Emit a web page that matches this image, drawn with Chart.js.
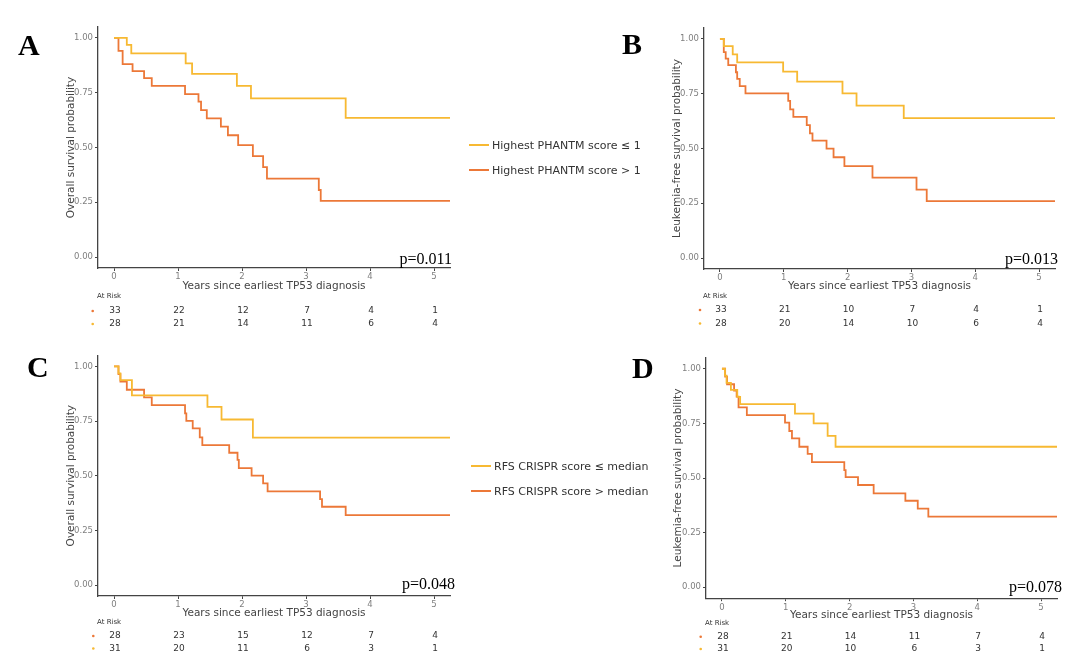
<!DOCTYPE html>
<html>
<head>
<meta charset="utf-8">
<script src="https://cdn.jsdelivr.net/npm/chart.js@4/dist/chart.umd.min.js"></script>
<style>
  body { margin: 0; background: #fff; }
  #page { position: relative; width: 1080px; height: 660px; overflow: hidden; font-family: "DejaVu Sans", sans-serif; }
  canvas { position: absolute; }
  .item { position: absolute; height: 14px; line-height: 14px; font-size: 11px; color: #333; white-space: nowrap; }
  .swatch { display: inline-block; width: 20px; height: 2px; vertical-align: middle; margin-right: 3px; position: relative; top: -1px; }
</style>
</head>
<body>
<div id="page">
  <canvas id="chartA"></canvas>
  <canvas id="chartB"></canvas>
  <canvas id="chartC"></canvas>
  <canvas id="chartD"></canvas>
</div>
<script>
const xTicks = [0, 1, 2, 3, 4, 5];
const yTicks = [0, 0.25, 0.5, 0.75, 1];

const legendAB = ['Highest PHANTM score \u2264 1', 'Highest PHANTM score > 1'];
const legendCD = ['RFS CRISPR score \u2264 median', 'RFS CRISPR score > median'];

// A: overall survival, PHANTM
const timeA_low = [0, 0.2, 0.27, 1.12, 1.22, 1.92, 2.14, 3.62, 5.25];
const survA_low = [1, 0.968, 0.93, 0.884, 0.836, 0.781, 0.724, 0.635, 0.635];
const timeA_high = [0, 0.07, 0.135, 0.29, 0.47, 0.59, 1.11, 1.32, 1.36, 1.45, 1.67, 1.78, 1.94, 2.17, 2.33, 2.39, 3.2, 3.23, 5.25];
const survA_high = [1, 0.941, 0.881, 0.849, 0.817, 0.781, 0.744, 0.709, 0.671, 0.633, 0.595, 0.556, 0.511, 0.461, 0.41, 0.358, 0.306, 0.256, 0.256];
const riskA_high = [33, 22, 12, 7, 4, 1];
const riskA_low = [28, 21, 14, 11, 6, 4];

// B: leukemia-free survival, PHANTM
const timeB_low = [0, 0.06, 0.2, 0.27, 0.99, 1.21, 1.92, 2.14, 2.88, 5.25];
const survB_low = [1, 0.967, 0.93, 0.893, 0.851, 0.805, 0.752, 0.696, 0.639, 0.639];
const timeB_high = [0, 0.06, 0.09, 0.13, 0.25, 0.27, 0.31, 0.4, 1.07, 1.1, 1.15, 1.36, 1.41, 1.45, 1.67, 1.78, 1.95, 2.39, 3.08, 3.24, 5.25];
const survB_high = [1, 0.94, 0.91, 0.881, 0.848, 0.818, 0.785, 0.752, 0.717, 0.679, 0.644, 0.607, 0.569, 0.536, 0.499, 0.46, 0.42, 0.367, 0.312, 0.26, 0.26];
const riskB_high = [33, 21, 10, 7, 4, 1];
const riskB_low = [28, 20, 14, 10, 6, 4];

// C: overall survival, CRISPR
const timeC_low = [0, 0.07, 0.1, 0.28, 1.46, 1.68, 2.17, 5.25];
const survC_low = [1, 0.968, 0.937, 0.867, 0.815, 0.757, 0.674, 0.674];
const timeC_high = [0, 0.07, 0.1, 0.2, 0.47, 0.59, 1.11, 1.13, 1.23, 1.34, 1.38, 1.8, 1.93, 1.95, 2.15, 2.33, 2.4, 3.22, 3.25, 3.62, 5.25];
const survC_high = [1, 0.964, 0.93, 0.893, 0.858, 0.823, 0.785, 0.751, 0.716, 0.675, 0.64, 0.605, 0.572, 0.535, 0.5, 0.465, 0.428, 0.393, 0.358, 0.32, 0.32];
const riskC_high = [28, 23, 15, 12, 7, 4];
const riskC_low = [31, 20, 11, 6, 3, 1];

// D: leukemia-free survival, CRISPR
const timeD_low = [0, 0.047, 0.072, 0.14, 0.24, 0.285, 1.144, 1.437, 1.656, 1.78, 5.25];
const survD_low = [1, 0.968, 0.935, 0.903, 0.871, 0.838, 0.795, 0.75, 0.693, 0.643, 0.643];
const timeD_high = [0, 0.05, 0.08, 0.19, 0.23, 0.26, 0.39, 0.988, 1.055, 1.097, 1.212, 1.343, 1.41, 1.917, 1.938, 2.132, 2.377, 2.874, 3.068, 3.234, 5.25];
const survD_high = [1, 0.964, 0.929, 0.9, 0.872, 0.823, 0.788, 0.753, 0.715, 0.681, 0.643, 0.61, 0.573, 0.536, 0.504, 0.468, 0.43, 0.396, 0.36, 0.323, 0.323];
const riskD_high = [28, 21, 14, 11, 7, 4];
const riskD_low = [31, 20, 10, 6, 3, 1];

const yellow = '#F7B932';
const orange = '#EC7838';

const panels = [
  { id: 'chartA', letter: 'A', p: 'p=0.011', yTitle: 'Overall survival probability',
    box: [0, 0, 460, 335], area: [98, 27, 450, 268], yTitleX: 71, xTitleY: 286.5,
    riskY: [296, 311, 324], dotX: 92.7, pPos: [452, 264.3], letterPos: [18, 55],
    low: [timeA_low, survA_low], high: [timeA_high, survA_high], risk: [riskA_high, riskA_low] },
  { id: 'chartB', letter: 'B', p: 'p=0.013', yTitle: 'Leukemia-free survival probability',
    box: [600, 0, 470, 335], area: [704, 28, 1055, 269], yTitleX: 677.5, xTitleY: 286.5,
    riskY: [296, 310, 323.5], dotX: 700, pPos: [1058, 264.3], letterPos: [622, 54],
    low: [timeB_low, survB_low], high: [timeB_high, survB_high], risk: [riskB_high, riskB_low] },
  { id: 'chartC', letter: 'C', p: 'p=0.048', yTitle: 'Overall survival probability',
    box: [0, 330, 460, 330], area: [98, 355.4, 450, 596], yTitleX: 71, xTitleY: 613.3,
    riskY: [621.7, 636, 648.5], dotX: 93.3, pPos: [455, 589.3], letterPos: [27, 377],
    low: [timeC_low, survC_low], high: [timeC_high, survC_high], risk: [riskC_high, riskC_low] },
  { id: 'chartD', letter: 'D', p: 'p=0.078', yTitle: 'Leukemia-free survival probability',
    box: [600, 330, 470, 330], area: [706, 357.8, 1057, 598.2], yTitleX: 678.5, xTitleY: 615.7,
    riskY: [622.7, 636.7, 649], dotX: 700.7, pPos: [1062, 591.7], letterPos: [632, 378],
    low: [timeD_low, survD_low], high: [timeD_high, survD_high], risk: [riskD_high, riskD_low] }
];

Chart.defaults.font.family = '"DejaVu Sans", sans-serif';

const panelText = {
  id: 'panelText',
  afterDraw(chart, args, opts) {
    const ctx = chart.ctx;
    const xs = chart.scales.x;
    const bx = opts.origin[0], by = opts.origin[1];
    ctx.save();
    ctx.fillStyle = '#333';
    ctx.font = '7px "DejaVu Sans"';
    ctx.textAlign = 'left';
    ctx.textBaseline = 'middle';
    ctx.fillText('At Risk', chart.chartArea.left - 1, opts.riskY[0] - by);

    ctx.font = '9px "DejaVu Sans"';
    ctx.textAlign = 'center';
    const dotColors = [orange, yellow];
    opts.rows.forEach((row, r) => {
      const y = opts.riskY[r + 1] - by;
      ctx.fillStyle = dotColors[r];
      ctx.beginPath();
      ctx.arc(opts.dotX - bx, y, 1.3, 0, Math.PI * 2);
      ctx.fill();
      ctx.fillStyle = '#333';
      row.forEach((n, i) => ctx.fillText(String(n), xs.getPixelForValue(xTicks[i]) + 1, y));
    });

    ctx.fillStyle = '#000';
    ctx.textBaseline = 'alphabetic';
    ctx.textAlign = 'right';
    ctx.font = '16px "Liberation Serif"';
    ctx.fillText(opts.p, opts.pPos[0] - bx, opts.pPos[1] - by);

    ctx.textAlign = 'left';
    ctx.font = 'bold 30px "Liberation Serif"';
    ctx.fillText(opts.letter, opts.letterPos[0] - bx, opts.letterPos[1] - by);
    ctx.restore();
  }
};

function toPoints(times, surv) {
  return times.map((t, i) => ({ x: t, y: surv[i] }));
}

function drawPanel(pn, labels) {
  const [bx, by, w, h] = pn.box;
  const canvas = document.getElementById(pn.id);
  canvas.width = w;
  canvas.height = h;
  canvas.style.left = bx + 'px';
  canvas.style.top = by + 'px';
  canvas.style.width = w + 'px';
  canvas.style.height = h + 'px';

  const left = pn.area[0] - bx;
  const top = pn.area[1] - by;
  const right = pn.area[2] - bx;
  const bottom = pn.area[3] - by;
  const titleLine = 10.5 * 1.2;

  const axisGrid = { drawOnChartArea: false, drawTicks: true, tickLength: 3, tickColor: '#444', tickWidth: 1 };
  const axisBorder = { display: true, color: '#444', width: 1.3 };

  new Chart(canvas, {
    type: 'line',
    data: {
      datasets: [
        { label: labels[0], data: toPoints(pn.low[0], pn.low[1]), borderColor: yellow },
        { label: labels[1], data: toPoints(pn.high[0], pn.high[1]), borderColor: orange }
      ]
    },
    options: {
      responsive: false,
      animation: false,
      devicePixelRatio: 1,
      datasets: { line: { stepped: true, pointRadius: 0, borderWidth: 1.8, fill: false } },
      layout: { padding: { left: 0, top: top, right: w - right, bottom: 0 } },
      plugins: {
        legend: { display: false },
        tooltip: { enabled: false },
        panelText: { origin: [bx, by], rows: pn.risk, riskY: pn.riskY, dotX: pn.dotX,
                     p: pn.p, pPos: pn.pPos, letter: pn.letter, letterPos: pn.letterPos }
      },
      scales: {
        x: {
          type: 'linear', min: -0.25, max: 5.25,
          afterBuildTicks: s => { s.ticks = xTicks.map(v => ({ value: v })); },
          afterFit: s => { s.height = h - bottom; },
          ticks: { color: '#7f7f7f', font: { size: 8.5 }, padding: 1, maxRotation: 0, callback: v => String(v) },
          grid: axisGrid,
          border: axisBorder,
          title: { display: true, text: 'Years since earliest TP53 diagnosis', color: '#444',
                   font: { size: 10.5 }, padding: { top: 0, bottom: h - (pn.xTitleY - by) - titleLine / 2 } }
        },
        y: {
          min: -0.05, max: 1.05,
          afterBuildTicks: s => { s.ticks = yTicks.map(v => ({ value: v })); },
          afterFit: s => { s.width = left; },
          ticks: { color: '#7f7f7f', font: { size: 8.5 }, padding: 2, callback: v => v.toFixed(2) },
          grid: axisGrid,
          border: axisBorder,
          title: { display: true, text: pn.yTitle, color: '#444',
                   font: { size: 10.5 }, padding: { top: (pn.yTitleX - bx) - titleLine / 2, bottom: 0 } }
        }
      }
    },
    plugins: [panelText]
  });
}

function addLegend(labels, x, ys) {
  const page = document.getElementById('page');
  const colors = [yellow, orange];
  labels.forEach((text, i) => {
    const item = document.createElement('div');
    item.className = 'item';
    item.style.left = x + 'px';
    item.style.top = (ys[i] - 7) + 'px';
    const sw = document.createElement('span');
    sw.className = 'swatch';
    sw.style.background = colors[i];
    item.appendChild(sw);
    item.appendChild(document.createTextNode(text));
    page.appendChild(item);
  });
}

drawPanel(panels[0], legendAB);
drawPanel(panels[1], legendAB);
drawPanel(panels[2], legendCD);
drawPanel(panels[3], legendCD);

addLegend(legendAB, 469, [146, 171]);
addLegend(legendCD, 471, [467, 492]);
</script>
</body>
</html>
